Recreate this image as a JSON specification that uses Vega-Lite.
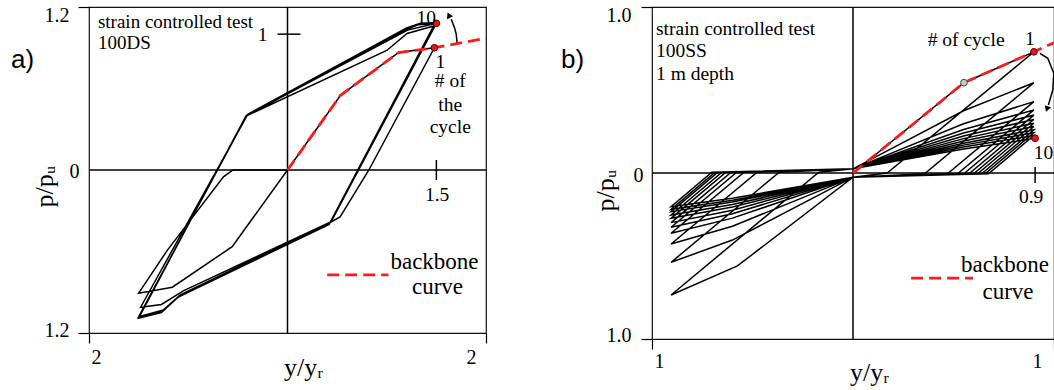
{
 "$schema": "https://vega.github.io/schema/vega-lite/v6.json",
 "padding": {"left": 10, "top": 3, "right": 0, "bottom": 0},
 "background": "white",
 "config": {
  "view": {"stroke": "#111", "strokeWidth": 1.2},
  "axis": {"grid": false, "domain": false, "labelFont": "Liberation Serif", "titleFont": "Liberation Serif", "labelFontSize": 20, "titleFontSize": 26, "titleFontWeight": "normal", "labelColor": "#000", "titleColor": "#000", "tickColor": "#000", "tickWidth": 1.2},
  "text": {"font": "Liberation Serif", "color": "#000"}
 },
 "datasets": {
  "aBlack": [
   {"k":"p","o":1,"x":0,"y":0},{"k":"p","o":2,"x":-0.557,"y":-0.564},{"k":"p","o":3,"x":-1.16,"y":-0.863},{"k":"p","o":4,"x":-1.5,"y":-0.907},{"k":"p","o":5,"x":-1.21,"y":-0.59},{"k":"p","o":6,"x":-0.645,"y":-0.05},{"k":"p","o":7,"x":-0.55,"y":0},{"k":"p","o":8,"x":0,"y":0},{"k":"p","o":9,"x":0.534,"y":0.55},{"k":"p","o":10,"x":1.12,"y":0.865},{"k":"p","o":11,"x":1.48,"y":0.9},{"k":"p","o":12,"x":0.82,"y":0},{"k":"p","o":13,"x":0.53,"y":-0.345},{"k":"p","o":14,"x":0.42,"y":-0.39},{"k":"p","o":15,"x":-1.08,"y":-0.92},{"k":"p","o":16,"x":-1.25,"y":-1.03},{"k":"p","o":17,"x":-1.5,"y":-1.08},{"k":"p","o":18,"x":-0.41,"y":0.4},{"k":"p","o":19,"x":1.0,"y":0.88},{"k":"p","o":20,"x":1.205,"y":1.005},{"k":"p","o":21,"x":1.474,"y":1.06},{"k":"p","o":22,"x":0.42,"y":-0.4},{"k":"p","o":23,"x":-1.1,"y":-0.935},{"k":"p","o":24,"x":-1.27,"y":-1.05},{"k":"p","o":25,"x":-1.5,"y":-1.09},{"k":"p","o":26,"x":-0.42,"y":0.395},{"k":"p","o":27,"x":1.205,"y":1.035},{"k":"p","o":28,"x":1.32,"y":1.07},{"k":"p","o":29,"x":1.5,"y":1.08},{"k":"p","o":30,"x":0.44,"y":-0.38},{"k":"p","o":31,"x":-1.05,"y":-0.89},{"k":"p","o":32,"x":-1.27,"y":-0.99},{"k":"p","o":33,"x":-1.48,"y":-1.01},{"k":"p","o":34,"x":-0.4,"y":0.41},{"k":"p","o":35,"x":1.2,"y":1.045},{"k":"p","o":36,"x":1.34,"y":1.08},{"k":"p","o":37,"x":1.49,"y":1.085},{"k":"p","o":38,"x":0.43,"y":-0.385},{"k":"p","o":39,"x":-1.09,"y":-0.925},{"k":"p","o":40,"x":-1.26,"y":-1.04},{"k":"p","o":41,"x":-1.5,"y":-1.085},{"k":"p","o":42,"x":-0.415,"y":0.4},{"k":"p","o":43,"x":1.21,"y":1.03},{"k":"p","o":44,"x":1.5,"y":1.08},
   {"k":"zx","o":1,"x":0,"y":-1.2},{"k":"zx","o":2,"x":0,"y":1.2},
   {"k":"zy","o":1,"x":-2,"y":0},{"k":"zy","o":2,"x":2,"y":0},
   {"k":"t1","o":1,"x":-0.1,"y":1},{"k":"t1","o":2,"x":0.13,"y":1},
   {"k":"t15","o":1,"x":1.5,"y":0.074},{"k":"t15","o":2,"x":1.5,"y":-0.074},
   {"k":"arr","o":1,"x":1.709,"y":0.932},{"k":"arr","o":2,"x":1.7,"y":1.0},{"k":"arr","o":3,"x":1.682,"y":1.05},{"k":"arr","o":4,"x":1.65,"y":1.11}
  ],
  "aRed": [
   {"k":"bb","o":1,"x":0,"y":0},{"k":"bb","o":2,"x":0.534,"y":0.55},{"k":"bb","o":3,"x":1.12,"y":0.865},{"k":"bb","o":4,"x":1.48,"y":0.9},{"k":"bb","o":5,"x":2.0,"y":0.97},
   {"k":"leg","o":1,"x":0.4,"y":-0.772},{"k":"leg","o":2,"x":1.017,"y":-0.772}
  ],
  "aDots": [{"x":1.48,"y":0.9},{"x":1.5,"y":1.08}],
  "aHead": [{"x":1.625,"y":1.14}],
  "aTL": [{"t":"strain controlled test","x":-1.91,"y":1.09},{"t":"100DS","x":-1.91,"y":0.935}],
  "aTC": [{"t":"1","x":-0.25,"y":0.996},{"t":"10","x":1.398,"y":1.118},{"t":"1","x":1.54,"y":0.796},{"t":"# of","x":1.64,"y":0.654},{"t":"the","x":1.64,"y":0.478},{"t":"cycle","x":1.64,"y":0.316},{"t":"1.5","x":1.507,"y":-0.184}],
  "aTB": [{"t":"backbone","x":1.037,"y":-0.676},{"t":"curve","x":1.254,"y":-0.86}],
  "aTS": [{"t":"a)","x":-2.785,"y":0.81}],
  "bBlack": [
   {"k":"p","o":1,"x":0,"y":0},{"k":"p","o":2,"x":0.552,"y":0.544},{"k":"p","o":3,"x":0.9,"y":0.73},{"k":"p","o":4,"x":0.17,"y":0},{"k":"p","o":5,"x":0,"y":-0.025},{"k":"p","o":6,"x":-0.575,"y":-0.56},{"k":"p","o":7,"x":-0.905,"y":-0.735},{"k":"p","o":8,"x":-0.17,"y":0.005},{"k":"p","o":9,"x":0,"y":0.025},
   {"k":"p","o":10,"x":0.55,"y":0.375},{"k":"p","o":11,"x":0.9,"y":0.544},{"k":"p","o":12,"x":0.356,"y":-0.005},{"k":"p","o":13,"x":0,"y":-0.025},{"k":"p","o":14,"x":-0.6,"y":-0.404},{"k":"p","o":15,"x":-0.905,"y":-0.538},{"k":"p","o":16,"x":-0.367,"y":0.005},{"k":"p","o":17,"x":0,"y":0.025},
   {"k":"p","o":18,"x":0.55,"y":0.297},{"k":"p","o":19,"x":0.9,"y":0.43},{"k":"p","o":20,"x":0.47,"y":-0.005},{"k":"p","o":21,"x":0,"y":-0.025},{"k":"p","o":22,"x":-0.6,"y":-0.321},{"k":"p","o":23,"x":-0.905,"y":-0.428},{"k":"p","o":24,"x":-0.477,"y":0.005},{"k":"p","o":25,"x":0,"y":0.025},
   {"k":"p","o":26,"x":0.55,"y":0.262},{"k":"p","o":27,"x":0.9,"y":0.38},{"k":"p","o":28,"x":0.52,"y":-0.005},{"k":"p","o":29,"x":0,"y":-0.025},{"k":"p","o":30,"x":-0.6,"y":-0.272},{"k":"p","o":31,"x":-0.905,"y":-0.363},{"k":"p","o":32,"x":-0.542,"y":0.005},{"k":"p","o":33,"x":0,"y":0.025},
   {"k":"p","o":34,"x":0.55,"y":0.241},{"k":"p","o":35,"x":0.9,"y":0.349},{"k":"p","o":36,"x":0.551,"y":-0.005},{"k":"p","o":37,"x":0,"y":-0.025},{"k":"p","o":38,"x":-0.6,"y":-0.245},{"k":"p","o":39,"x":-0.905,"y":-0.327},{"k":"p","o":40,"x":-0.578,"y":0.005},{"k":"p","o":41,"x":0,"y":0.025},
   {"k":"p","o":42,"x":0.55,"y":0.223},{"k":"p","o":43,"x":0.9,"y":0.323},{"k":"p","o":44,"x":0.577,"y":-0.005},{"k":"p","o":45,"x":0,"y":-0.025},{"k":"p","o":46,"x":-0.6,"y":-0.224},{"k":"p","o":47,"x":-0.905,"y":-0.299},{"k":"p","o":48,"x":-0.606,"y":0.005},{"k":"p","o":49,"x":0,"y":0.025},
   {"k":"p","o":50,"x":0.55,"y":0.207},{"k":"p","o":51,"x":0.9,"y":0.3},{"k":"p","o":52,"x":0.6,"y":-0.005},{"k":"p","o":53,"x":0,"y":-0.025},{"k":"p","o":54,"x":-0.6,"y":-0.205},{"k":"p","o":55,"x":-0.905,"y":-0.273},{"k":"p","o":56,"x":-0.632,"y":0.005},{"k":"p","o":57,"x":0,"y":0.025},
   {"k":"p","o":58,"x":0.55,"y":0.193},{"k":"p","o":59,"x":0.9,"y":0.28},{"k":"p","o":60,"x":0.62,"y":-0.005},{"k":"p","o":61,"x":0,"y":-0.025},{"k":"p","o":62,"x":-0.6,"y":-0.19},{"k":"p","o":63,"x":-0.905,"y":-0.253},{"k":"p","o":64,"x":-0.652,"y":0.005},{"k":"p","o":65,"x":0,"y":0.025},
   {"k":"p","o":66,"x":0.55,"y":0.179},{"k":"p","o":67,"x":0.9,"y":0.26},{"k":"p","o":68,"x":0.64,"y":-0.005},{"k":"p","o":69,"x":0,"y":-0.025},{"k":"p","o":70,"x":-0.6,"y":-0.175},{"k":"p","o":71,"x":-0.905,"y":-0.233},{"k":"p","o":72,"x":-0.672,"y":0.005},{"k":"p","o":73,"x":0,"y":0.025},
   {"k":"p","o":74,"x":0.55,"y":0.168},{"k":"p","o":75,"x":0.9,"y":0.243},{"k":"p","o":76,"x":0.657,"y":-0.005},{"k":"p","o":77,"x":0,"y":-0.025},{"k":"p","o":78,"x":-0.6,"y":-0.164},{"k":"p","o":79,"x":-0.905,"y":-0.219},{"k":"p","o":80,"x":-0.686,"y":0.005},{"k":"p","o":81,"x":0,"y":0.025},
   {"k":"p","o":82,"x":0.55,"y":0.156},{"k":"p","o":83,"x":0.9,"y":0.226},{"k":"p","o":84,"x":0.674,"y":-0.005},{"k":"p","o":85,"x":0,"y":-0.025},{"k":"p","o":86,"x":-0.6,"y":-0.152},{"k":"p","o":87,"x":-0.905,"y":-0.203},{"k":"p","o":88,"x":-0.702,"y":0.005},{"k":"p","o":89,"x":0,"y":0.025},
   {"k":"p","o":90,"x":0.55,"y":0.144},{"k":"p","o":91,"x":0.906,"y":0.209},
   {"k":"zx","o":1,"x":0,"y":-1},{"k":"zx","o":2,"x":0,"y":1},
   {"k":"zy","o":1,"x":-1,"y":0},{"k":"zy","o":2,"x":1,"y":0},
   {"k":"t09","o":1,"x":0.906,"y":0.036},{"k":"t09","o":2,"x":0.906,"y":-0.06},
   {"k":"arr","o":1,"x":0.93,"y":0.72},{"k":"arr","o":2,"x":0.969,"y":0.691},{"k":"arr","o":3,"x":0.999,"y":0.601},{"k":"arr","o":4,"x":0.994,"y":0.5},{"k":"arr","o":5,"x":0.972,"y":0.41}
  ],
  "bRed": [
   {"k":"bb","o":1,"x":0,"y":0},{"k":"bb","o":2,"x":0.552,"y":0.544},{"k":"bb","o":3,"x":0.9,"y":0.73},{"k":"bb","o":4,"x":1.0,"y":0.785},
   {"k":"leg","o":1,"x":0.289,"y":-0.633},{"k":"leg","o":2,"x":0.597,"y":-0.633}
  ],
  "bDots": [{"x":0.9,"y":0.73},{"x":0.906,"y":0.209}],
  "bGray": [{"x":0.552,"y":0.544}],
  "bHead": [{"x":0.965,"y":0.385}],
  "bTL": [{"t":"strain controlled test","x":-0.98,"y":0.867},{"t":"100SS","x":-0.98,"y":0.735},{"t":"1 m depth","x":-0.98,"y":0.596}],
  "bTC": [{"t":"# of cycle","x":0.563,"y":0.8},{"t":"1","x":0.88,"y":0.805},{"t":"10","x":0.948,"y":0.12},{"t":"0.9","x":0.886,"y":-0.145}],
  "bTB": [{"t":"backbone","x":0.537,"y":-0.554},{"t":"curve","x":0.644,"y":-0.717}],
  "bTS": [{"t":"b)","x":-1.453,"y":0.68}]
 },
 "spacing": 166,
 "bounds": "flush",
 "hconcat": [
  {
   "width": 397, "height": 326,
   "encoding": {
    "x": {"field": "x", "type": "quantitative", "scale": {"domain": [-2, 2], "nice": false, "zero": false},
     "axis": {"values": [-2, 2], "title": "y/yᵣ", "labelExpr": "format(abs(datum.value),'d')", "tickSize": 10, "labelPadding": 4,
      "labelOffset": {"condition": {"test": "datum.value < 0", "value": 2}, "value": -10},
      "titleX": 214, "titleY": 42, "titleBaseline": "alphabetic"}},
    "y": {"field": "y", "type": "quantitative", "scale": {"domain": [-1.2, 1.2], "nice": false, "zero": false},
     "axis": {"values": [-1.2, 0, 1.2], "title": "p/pᵤ", "labelExpr": "datum.value == 0 ? '0' : format(abs(datum.value),'.1f')", "tickSize": 11,
      "labelPadding": {"condition": {"test": "datum.value == 0", "value": -1}, "value": 9},
      "labelOffset": {"condition": [{"test": "datum.value > 0", "value": 8}, {"test": "datum.value < 0", "value": -3}], "value": 1},
      "tickOpacity": {"condition": {"test": "datum.value == 0", "value": 0}, "value": 1},
      "titleX": -37, "titleY": 179, "titleBaseline": "alphabetic", "titleAngle": 270}}
   },
   "layer": [
    {"data": {"name": "aBlack"}, "mark": {"type": "line", "color": "#000", "strokeWidth": 1.5}, "encoding": {"detail": {"field": "k"}, "order": {"field": "o", "type": "quantitative"}}},
    {"data": {"name": "aRed"}, "mark": {"type": "line", "color": "#ff1a1a", "strokeWidth": 2.8, "strokeDash": [12, 6]}, "encoding": {"detail": {"field": "k"}, "order": {"field": "o", "type": "quantitative"}}},
    {"data": {"name": "aDots"}, "mark": {"type": "point", "filled": true, "fill": "#e8141a", "stroke": "#5a0000", "strokeWidth": 1, "size": 45, "opacity": 1}},
    {"data": {"name": "aHead"}, "mark": {"type": "point", "shape": "triangle-up", "filled": true, "color": "#000", "size": 45, "angle": -25, "opacity": 1}},
    {"data": {"name": "aTL"}, "mark": {"type": "text", "align": "left", "baseline": "middle", "fontSize": 19}, "encoding": {"text": {"field": "t"}}},
    {"data": {"name": "aTC"}, "mark": {"type": "text", "align": "center", "baseline": "middle", "fontSize": 19.5}, "encoding": {"text": {"field": "t"}}},
    {"data": {"name": "aTB"}, "mark": {"type": "text", "align": "left", "baseline": "middle", "fontSize": 23}, "encoding": {"text": {"field": "t"}}},
    {"data": {"name": "aTS"}, "mark": {"type": "text", "align": "left", "baseline": "middle", "fontSize": 26, "font": "Liberation Sans"}, "encoding": {"text": {"field": "t"}}}
   ]
  },
  {
   "width": 402, "height": 332,
   "encoding": {
    "x": {"field": "x", "type": "quantitative", "scale": {"domain": [-1, 1], "nice": false, "zero": false},
     "axis": {"values": [-1, 1], "title": "y/yᵣ", "labelExpr": "format(abs(datum.value),'d')", "tickSize": 10, "labelPadding": 2,
      "labelOffset": {"condition": {"test": "datum.value < 0", "value": 2}, "value": -12},
      "titleX": 217, "titleY": 41, "titleBaseline": "alphabetic"}},
    "y": {"field": "y", "type": "quantitative", "scale": {"domain": [-1, 1], "nice": false, "zero": false},
     "axis": {"values": [-1, 0, 1], "title": "p/pᵤ", "labelExpr": "datum.value == 0 ? '0' : format(abs(datum.value),'.1f')", "tickSize": 11,
      "labelPadding": {"condition": {"test": "datum.value == 0", "value": -2}, "value": 10},
      "labelOffset": {"condition": [{"test": "datum.value > 0", "value": 8}, {"test": "datum.value < 0", "value": -4}], "value": 2},
      "tickOpacity": {"condition": {"test": "datum.value == 0", "value": 0}, "value": 1},
      "titleX": -39, "titleY": 183, "titleBaseline": "alphabetic", "titleAngle": 270}}
   },
   "layer": [
    {"data": {"name": "bBlack"}, "mark": {"type": "line", "color": "#000", "strokeWidth": 1.5}, "encoding": {"detail": {"field": "k"}, "order": {"field": "o", "type": "quantitative"}}},
    {"data": {"name": "bRed"}, "mark": {"type": "line", "color": "#ff1a1a", "strokeWidth": 2.8, "strokeDash": [12, 6]}, "encoding": {"detail": {"field": "k"}, "order": {"field": "o", "type": "quantitative"}}},
    {"data": {"name": "bDots"}, "mark": {"type": "point", "filled": true, "fill": "#e8141a", "stroke": "#5a0000", "strokeWidth": 1, "size": 45, "opacity": 1}},
    {"data": {"name": "bGray"}, "mark": {"type": "point", "filled": true, "fill": "#c8c8c8", "stroke": "#444", "strokeWidth": 1, "size": 45, "opacity": 1}},
    {"data": {"name": "bHead"}, "mark": {"type": "point", "shape": "triangle-down", "filled": true, "color": "#000", "size": 45, "angle": 20, "opacity": 1}},
    {"data": {"name": "bTL"}, "mark": {"type": "text", "align": "left", "baseline": "middle", "fontSize": 19.5}, "encoding": {"text": {"field": "t"}}},
    {"data": {"name": "bTC"}, "mark": {"type": "text", "align": "center", "baseline": "middle", "fontSize": 19.5}, "encoding": {"text": {"field": "t"}}},
    {"data": {"name": "bTB"}, "mark": {"type": "text", "align": "left", "baseline": "middle", "fontSize": 23}, "encoding": {"text": {"field": "t"}}},
    {"data": {"name": "bTS"}, "mark": {"type": "text", "align": "left", "baseline": "middle", "fontSize": 26, "font": "Liberation Sans"}, "encoding": {"text": {"field": "t"}}}
   ]
  }
 ]
}
